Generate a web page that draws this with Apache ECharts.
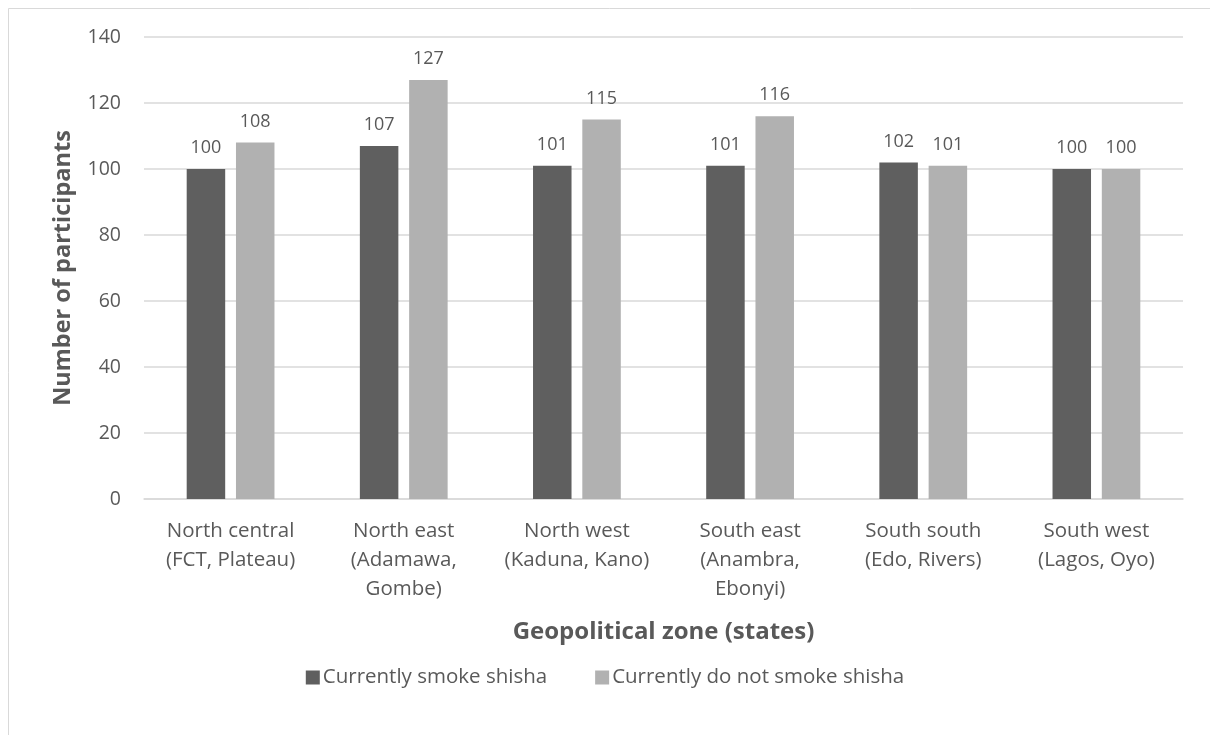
<!DOCTYPE html>
<html>
<head>
<meta charset="utf-8">
<script src="https://cdn.jsdelivr.net/npm/echarts@6/dist/echarts.min.js"></script>
<style>
html,body{margin:0;padding:0;background:#fff;}
#chart{width:1210px;height:735px;}
</style>
</head>
<body>
<div id="chart"></div>
<script>
const categories = [
  "North central\n(FCT, Plateau)",
  "North east\n(Adamawa,\nGombe)",
  "North west\n(Kaduna, Kano)",
  "South east\n(Anambra,\nEbonyi)",
  "South south\n(Edo, Rivers)",
  "South west\n(Lagos, Oyo)"
];
const seriesNames = ["Currently smoke shisha", "Currently do not smoke shisha"];
const smokeValues = [100, 107, 101, 101, 102, 100];
const notSmokeValues = [108, 127, 115, 116, 101, 100];
const yTitle = "Number of participants";
const xTitle = "Geopolitical zone (states)";

const FONT = "'Open Sans', 'Noto Sans', sans-serif";
const TXT = "#595959";

const chart = echarts.init(document.getElementById('chart'), null, {renderer: 'canvas'});
chart.setOption({
  animation: false,
  backgroundColor: '#fff',
  textStyle: {fontFamily: FONT, color: TXT},
  graphic: [{
    type: 'rect',
    shape: {x: 8.5, y: 8.5, width: 1400, height: 1000},
    style: {fill: 'none', stroke: '#d9d9d9', lineWidth: 1},
    silent: true, z: -10
  }],
  grid: {left: 144, right: 27, top: 37, bottom: 236, containLabel: false},
  legend: {
    top: 662,
    left: 'center',
    itemWidth: 14,
    itemHeight: 14,
    itemGap: 48,
    icon: 'rect',
    textStyle: {fontFamily: FONT, fontSize: 20.5, color: TXT, padding: [0, 0, 0, -2]},
    data: seriesNames
  },
  xAxis: {
    type: 'category',
    data: categories,
    axisLine: {show: true, lineStyle: {color: '#d9d9d9', width: 1.5}},
    axisTick: {show: false},
    axisLabel: {fontFamily: FONT, fontSize: 20.5, color: TXT, lineHeight: 29, margin: 18, interval: 0},
    name: xTitle,
    nameLocation: 'middle',
    nameGap: 121,
    nameTextStyle: {fontFamily: FONT, fontSize: 24, fontWeight: 'bold', color: TXT}
  },
  yAxis: {
    type: 'value',
    min: 0,
    max: 140,
    interval: 20,
    axisLine: {show: false},
    axisTick: {show: false},
    splitLine: {lineStyle: {color: '#d9d9d9', width: 1.5}},
    axisLabel: {fontFamily: FONT, fontSize: 19.5, color: TXT, margin: 23},
    name: yTitle,
    nameLocation: 'middle',
    nameGap: 69,
    nameTextStyle: {fontFamily: FONT, fontSize: 23.5, fontWeight: 'bold', color: TXT}
  },
  series: [
    {
      name: seriesNames[0],
      type: 'bar',
      data: smokeValues,
      barWidth: 38.5,
      barGap: '28%',
      itemStyle: {color: '#5f5f5f'},
      label: {show: true, position: 'top', distance: 12, fontFamily: FONT, fontSize: 18, color: TXT}
    },
    {
      name: seriesNames[1],
      type: 'bar',
      data: notSmokeValues,
      barWidth: 38.5,
      barGap: '28%',
      itemStyle: {color: '#b1b1b1'},
      label: {show: true, position: 'top', distance: 12, fontFamily: FONT, fontSize: 18, color: TXT}
    }
  ]
});
</script>
</body>
</html>
